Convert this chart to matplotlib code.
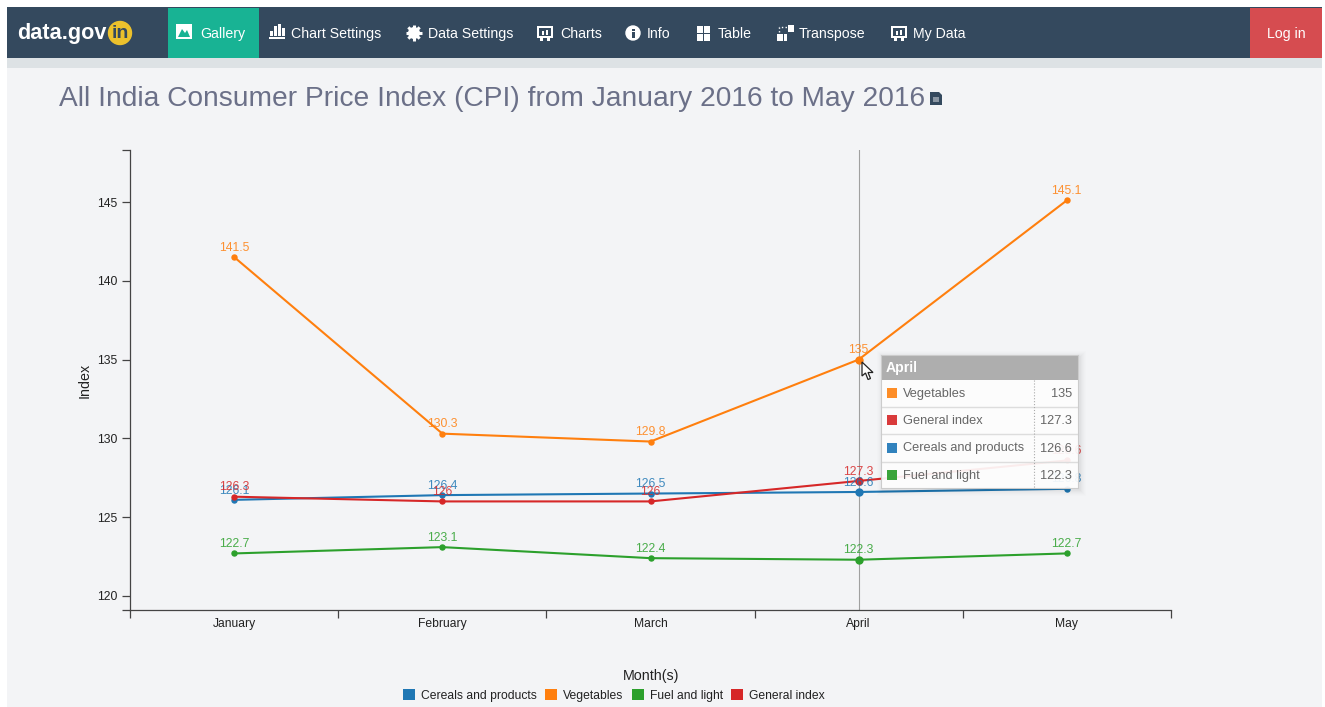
import math
import matplotlib
matplotlib.use("Agg")
import matplotlib.pyplot as plt
from matplotlib.patches import Rectangle, Circle, Polygon

plt.rcParams['font.family'] = ['Liberation Sans', 'DejaVu Sans']

months = ["January", "February", "March", "April", "May"]
cereals = [126.1, 126.4, 126.5, 126.6, 126.8]
vegetables = [141.5, 130.3, 129.8, 135, 145.1]
fuel = [122.7, 123.1, 122.4, 122.3, 122.7]
general = [126.3, 126, 126, 127.3, 128.6]
series_names = ["Cereals and products", "Vegetables", "Fuel and light", "General index"]
series_values = [cereals, vegetables, fuel, general]
series_colors = ["#1f77b4", "#ff7f0e", "#2ca02c", "#d62728"]
yticks = [120, 125, 130, 135, 140, 145]
nav_items = ["Gallery", "Chart Settings", "Data Settings", "Charts", "Info", "Table", "Transpose", "My Data"]
nav_text_x = [200, 291, 428, 560, 647, 718, 799, 913]
nav_icon_x = [184, 277, 414, 545, 633, 703, 785, 899]
title = "All India Consumer Price Index (CPI) from January 2016 to May 2016"
hover_month = 3

W, H = 1325, 707
fig = plt.figure(figsize=(W / 100, H / 100), dpi=100, facecolor="white")


def overlay(z):
    a = fig.add_axes([0, 0, 1, 1], zorder=z)
    a.set_xlim(0, W)
    a.set_ylim(H, 0)
    a.axis("off")
    a.patch.set_alpha(0)
    return a


def rect(a, x0, y0, x1, y1, c, **kw):
    a.add_patch(Rectangle((x0, y0), x1 - x0, y1 - y0, facecolor=c, edgecolor="none", **kw))


# ---------- page chrome ----------
bg = overlay(0)
rect(bg, 7, 7, 1322, 58, "#34495e")
rect(bg, 7, 58, 1322, 68, "#dde2e5")
rect(bg, 7, 68, 1322, 707, "#f3f4f6")
rect(bg, 168, 8, 259, 58, "#18b394")
rect(bg, 1250, 8, 1322, 58, "#d64c50")
bg.text(17, 38.5, "data.gov", color="white", fontsize=15.6, fontweight="bold", va="baseline", ha="left")
bg.add_patch(Circle((120, 33), 11.5, color="#ecc12c"))
bg.text(120, 38, "in", color="#34495e", fontsize=14, fontweight="bold", va="baseline", ha="center")
for name, tx in zip(nav_items, nav_text_x):
    bg.text(tx, 38, name, color="white", fontsize=10.2, va="baseline", ha="left")
bg.text(1286, 38, "Log in", color="white", fontsize=10.2, va="baseline", ha="center")

# simple nav icons
ix = nav_icon_x
rect(bg, ix[0] - 8, 24, ix[0] + 8, 39, "white")
bg.add_patch(Polygon([(ix[0] - 6, 37), (ix[0] - 2, 29), (ix[0] + 1, 33), (ix[0] + 3, 30), (ix[0] + 6, 37)], facecolor="#18b394"))
for dx, h in zip([-7, -3, 1, 5], [5, 10, 12, 8]):
    rect(bg, ix[1] + dx, 36 - h, ix[1] + dx + 3, 36, "white")
rect(bg, ix[1] - 8, 37, ix[1] + 8, 38.5, "white")
bg.add_patch(Circle((ix[2], 33), 6, facecolor="white", edgecolor="none"))
for n in range(8):
    ang = n * math.pi / 4
    bg.plot([ix[2], ix[2] + 8 * math.cos(ang)], [33, 33 + 8 * math.sin(ang)], color="white", lw=2.2, solid_capstyle="butt")
bg.add_patch(Circle((ix[2], 33), 2.5, facecolor="#34495e", edgecolor="none"))
for k in (3, 7):
    rect(bg, ix[k] - 8, 26, ix[k] + 8, 38, "white")
    rect(bg, ix[k] - 6, 28, ix[k] + 6, 36, "#34495e")
    rect(bg, ix[k] - 3, 31, ix[k] - 1, 35, "white")
    rect(bg, ix[k] + 1, 30, ix[k] + 3, 35, "white")
    rect(bg, ix[k] - 5, 38, ix[k] - 2, 41, "white")
    rect(bg, ix[k] + 2, 38, ix[k] + 5, 41, "white")
bg.add_patch(Circle((ix[4], 33), 7, color="white"))
rect(bg, ix[4] - 1, 32, ix[4] + 1.5, 37.5, "#34495e")
rect(bg, ix[4] - 1, 28.5, ix[4] + 1.5, 30.5, "#34495e")
for x0, y0 in [(ix[5] - 6, 26), (ix[5] + 1, 26), (ix[5] - 6, 34), (ix[5] + 1, 34)]:
    rect(bg, x0, y0, x0 + 6, y0 + 7, "white")
rect(bg, ix[6] + 3, 25, ix[6] + 9, 32, "white")
rect(bg, ix[6] - 8, 34, ix[6] - 2, 41, "white")
rect(bg, ix[6] - 1, 34, ix[6] + 2, 41, "white")
bg.plot([ix[6] - 6, ix[6] - 6, ix[6] + 2], [32, 27, 27], color="white", lw=1, ls=":")

title_text = bg.text(59, 106.5, title, color="#6b7088", fontsize=20.25, va="baseline", ha="left")
bg.add_patch(Polygon([(930, 92), (939, 92), (942, 95), (942, 105), (930, 105)], facecolor="#34495e"))
rect(bg, 933, 97, 939, 102, "#8a96a3")

# ---------- chart ----------
ax_l, ax_r, ax_t, ax_b = 130.2, 1170.8, 150, 610
ax = fig.add_axes([ax_l / W, 1 - ax_b / H, (ax_r - ax_l) / W, (ax_b - ax_t) / H], zorder=1)
ax.patch.set_alpha(0)
ax.set_xlim(-0.5, 4.5)
ax.set_ylim(119.11, 148.3)
for s in ("top", "right"):
    ax.spines[s].set_visible(False)
for s in ("left", "bottom"):
    ax.spines[s].set_color("#444444")
    ax.spines[s].set_linewidth(0.9)

xs = list(range(len(months)))
ax.axvline(hover_month, color="#a0a0a0", lw=0.8, zorder=1)
handles = []
for name, vals, col in zip(series_names, series_values, series_colors):
    ax.plot(xs, vals, color=col, lw=1.5, marker="o", ms=3.6, zorder=3)
    ax.plot([hover_month], [vals[hover_month]], color=col, marker="o", ms=5, zorder=4)
    for x, v in zip(xs, vals):
        ax.annotate(f"{v:g}", (x, v), xytext=(0, 2.4), textcoords="offset points", ha="center",
                    va="bottom", fontsize=8.8, color=col, alpha=0.85, zorder=5)
    handles.append(Rectangle((0, 0), 1, 1, facecolor=col, edgecolor="none"))

ax.set_yticks(yticks)
ax.set_yticks([119.11, 148.3], minor=True)
ax.tick_params(axis="y", which="both", length=6, width=0.9, color="#444444", labelsize=8.7, labelcolor="#222222", pad=3)
ax.set_xticks([i - 0.5 for i in range(len(months) + 1)])
ax.set_xticklabels([])
ax.set_xticks(xs, minor=True)
ax.set_xticklabels(months, minor=True)
ax.tick_params(axis="x", which="major", length=6, width=0.9, color="#444444")
ax.tick_params(axis="x", which="minor", length=0, labelsize=8.7, labelcolor="#222222", pad=5.5)

fig.text(85 / W, 1 - 380 / H, "Index", rotation=90, fontsize=10.3, color="#222222", ha="center", va="center")
fig.text(651 / W, 1 - 676 / H, "Month(s)", fontsize=10.3, color="#222222", ha="center", va="center")
fig.legend(handles, series_names, loc="center", bbox_to_anchor=(614 / W, 1 - 695.5 / H), ncol=4, frameon=False,
           fontsize=8.7, handlelength=0.95, handleheight=0.95, handletextpad=0.5, columnspacing=0.72,
           labelcolor="#222222", borderpad=0, borderaxespad=0)

# ---------- tooltip ----------
top = overlay(3)
tx0, tx1, ty0 = 881, 1078, 355
for i, al in zip(range(6, 0, -1), [0.006, 0.008, 0.01, 0.012, 0.016, 0.02]):
    rect(top, tx0 - i + 2, ty0 - i + 2, tx1 + i + 2, 488 + i + 2, "black", alpha=al)
rect(top, tx0, ty0 + 24, tx1, 488, "white", alpha=0.92)
rect(top, tx0, ty0, tx1, ty0 + 25, "#aeaeae")
top.text(886, 372, months[hover_month], color="white", fontsize=10.1, fontweight="bold", va="baseline", ha="left")
order = sorted(range(len(series_names)), key=lambda k: -series_values[k][hover_month])
row_h = 27.2
for r, k in enumerate(order):
    y0 = 380 + r * row_h
    if r:
        top.plot([tx0, tx1], [y0, y0], color="#dddddd", lw=1)
    cy = y0 + row_h / 2 - 0.5
    soft = {"#1f77b4": "#3182bd", "#ff7f0e": "#fd8d27", "#2ca02c": "#3ba53b", "#d62728": "#d93a3b"}[series_colors[k]]
    rect(top, 887, cy - 5, 897, cy + 5, soft)
    top.text(903, cy + 4, series_names[k], color="#666666", fontsize=9.2, va="baseline", ha="left")
    top.text(1072, cy + 4, f"{series_values[k][hover_month]:g}", color="#666666", fontsize=9.2, va="baseline", ha="right")
top.plot([1033.5, 1033.5], [380, 488], color="#aaaaaa", lw=0.8, ls=":")
for xx0, yy0, xx1, yy1 in [(tx0, ty0, tx1, ty0), (tx0, ty0, tx0, 488), (tx1, ty0, tx1, 488), (tx0, 488, tx1, 488)]:
    top.plot([xx0, xx1], [yy0, yy1], color="#cccccc", lw=0.8)
# mouse pointer
top.add_patch(Polygon([(862, 362), (862, 376), (865.5, 373), (868, 379.5), (870.5, 378.5), (868, 372.5), (873, 372.5)],
                      facecolor="white", edgecolor="#222222", linewidth=0.9))

fig.savefig("out.png", dpi=100, facecolor="white")
